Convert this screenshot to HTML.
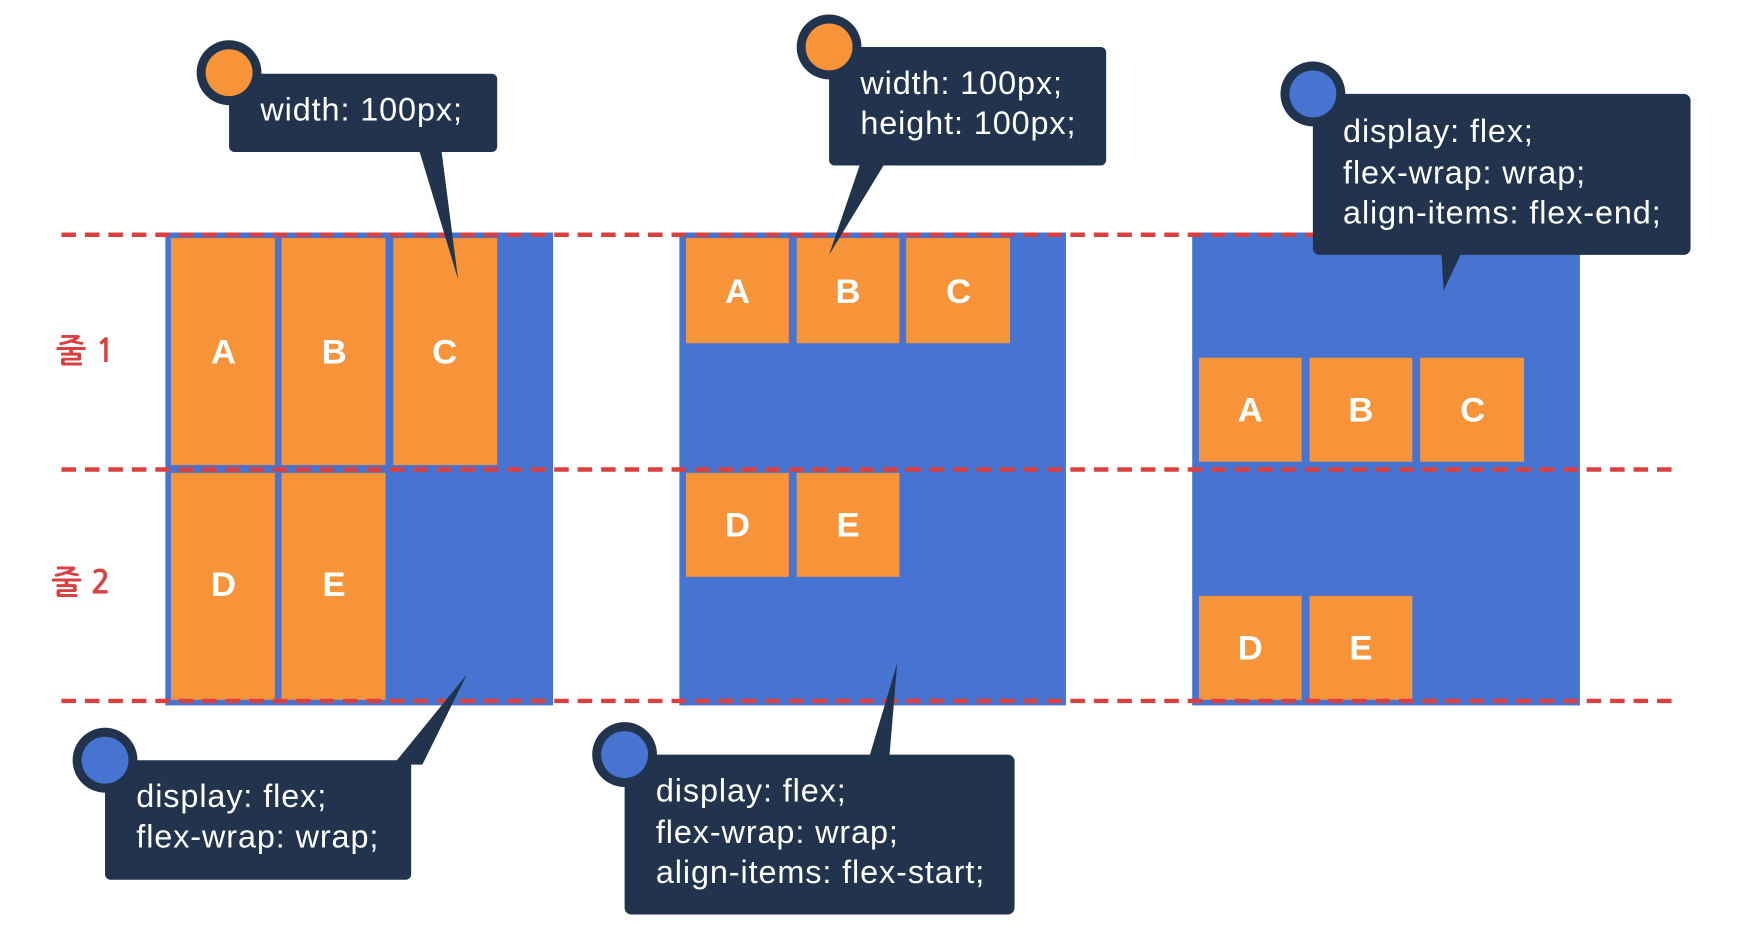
<!DOCTYPE html>
<html><head><meta charset="utf-8"><style>
html,body{margin:0;padding:0;background:#fff;width:1752px;height:948px;overflow:hidden}
svg{display:block}
.t{font-family:"Liberation Sans","NanumGothic",sans-serif;font-size:29px;letter-spacing:0.8px;fill:#fff}
.l{font-family:"Liberation Sans","NanumGothic",sans-serif;font-size:31px;font-weight:bold;fill:#fff;text-anchor:middle}
.k{font-family:"NanumGothic","Noto Sans CJK KR",sans-serif;font-size:29px;font-weight:bold;fill:#d9403f}
</style></head><body>
<svg width="1752" height="948" viewBox="0 0 1568 848" preserveAspectRatio="none">
<g fill="#4674d0">
<rect x="148" y="208" width="347" height="423"/>
<rect x="608" y="208" width="346" height="423"/>
<rect x="1067" y="208" width="347" height="423"/>
</g>
<g fill="#f7943a">
<rect x="153" y="213" width="93" height="203"/><rect x="252" y="213" width="93" height="203"/><rect x="352" y="213" width="93" height="203"/>
<rect x="153" y="423" width="93" height="203"/><rect x="252" y="423" width="93" height="203"/>
<rect x="614" y="213" width="92" height="94"/><rect x="713" y="213" width="92" height="94"/><rect x="811" y="213" width="93" height="94"/>
<rect x="614" y="423" width="92" height="93"/><rect x="713" y="423" width="92" height="93"/>
<rect x="1073" y="320" width="92" height="93"/><rect x="1172" y="320" width="92" height="93"/><rect x="1271" y="320" width="93" height="93"/>
<rect x="1073" y="533" width="92" height="93"/><rect x="1172" y="533" width="92" height="93"/>
</g>
<g>
<text x="200" y="325" class="l">A</text><text x="299" y="325" class="l">B</text><text x="398" y="325" class="l">C</text>
<text x="200" y="533" class="l">D</text><text x="299" y="533" class="l">E</text>
<text x="660" y="271" class="l">A</text><text x="759" y="271" class="l">B</text><text x="858" y="271" class="l">C</text>
<text x="660" y="480" class="l">D</text><text x="759" y="480" class="l">E</text>
<text x="1119" y="377" class="l">A</text><text x="1218" y="377" class="l">B</text><text x="1318" y="377" class="l">C</text>
<text x="1119" y="590" class="l">D</text><text x="1218" y="590" class="l">E</text>
</g>
<g stroke="#d9403f" stroke-width="4" stroke-dasharray="13 8">
<line x1="55" y1="210" x2="1500" y2="210"/>
<line x1="55" y1="420" x2="1500" y2="420"/>
<line x1="55" y1="627" x2="1500" y2="627"/>
</g>
<text x="50" y="324" class="k">줄 1</text>
<text x="46" y="531" class="k">줄 2</text>
<g fill="#22344d">
<rect x="205" y="66" width="240" height="70" rx="5"/><polygon points="375,134 395,134 410,250"/><circle cx="205" cy="65" r="29"/>
<rect x="742" y="42" width="248" height="106" rx="5"/><polygon points="770,146 792,146 742,228"/><circle cx="742" cy="42" r="29"/>
<rect x="1175" y="84" width="338" height="144" rx="6"/><polygon points="1290,226 1308,226 1292,260"/><circle cx="1175" cy="84" r="29"/>
<rect x="94" y="680" width="274" height="107" rx="5"/><polygon points="352,684 378,684 418,603"/><circle cx="94" cy="680" r="29"/>
<rect x="559" y="675" width="349" height="143" rx="6"/><polygon points="778,677 796,677 803,593"/><circle cx="559" cy="675" r="29"/>
</g>
<circle cx="205" cy="65" r="21" fill="#f7943a"/>
<circle cx="742" cy="42" r="21" fill="#f7943a"/>
<circle cx="1175" cy="84" r="21" fill="#4674d0"/>
<circle cx="94" cy="680" r="21" fill="#4674d0"/>
<circle cx="559" cy="675" r="21" fill="#4674d0"/>
<text class="t" x="233" y="108">width: 100px;</text>
<text class="t" x="770" y="84">width: 100px;</text>
<text class="t" x="770" y="120">height: 100px;</text>
<text class="t" x="1202" y="127">display: flex;</text>
<text class="t" x="1202" y="164">flex-wrap: wrap;</text>
<text class="t" x="1202" y="200">align-items: flex-end;</text>
<text class="t" x="122" y="722">display: flex;</text>
<text class="t" x="122" y="758">flex-wrap: wrap;</text>
<text class="t" x="587" y="717">display: flex;</text>
<text class="t" x="587" y="754">flex-wrap: wrap;</text>
<text class="t" x="587" y="790">align-items: flex-start;</text>
</svg>
</body></html>
